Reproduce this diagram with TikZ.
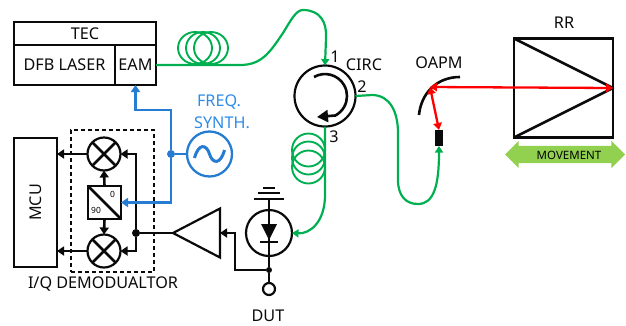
\documentclass[tikz,border=0pt]{standalone}
\usepackage{fontspec}
\setmainfont{Noto Sans}
\usepackage{xcolor}
\usetikzlibrary{shapes.geometric, shapes.arrows, arrows.meta, positioning, calc}
\definecolor{myblack}{RGB}{10,10,10}
\definecolor{myfiber}{RGB}{0,176,80}
\definecolor{myblue}{RGB}{38,124,208}
\definecolor{mysky}{RGB}{46,140,232}
\definecolor{myred}{RGB}{255,0,0}
\definecolor{mylime}{RGB}{146,208,80}
\tikzset{
  labeltext/.style={font=\fontsize{16.2}{18}\selectfont, inner sep=0pt, color=myblack},
  box/.style={rectangle, draw=myblack, line width=2.1pt, inner sep=0pt, outer sep=0pt, labeltext},
  mixer/.style={circle, draw=myblack, line width=2.2pt, minimum size=33pt, inner sep=0pt, outer sep=0pt},
  coil/.style={ellipse, draw=myfiber, line width=1.9pt, inner sep=0pt, minimum width=34pt, minimum height=32pt},
  junction/.style={circle, fill=#1, minimum size=8pt, inner sep=0pt},
  wire/.style={line width=2.6pt, color=myblack},
  arrow/.style={-{Triangle[length=7pt,width=9pt]}, wire},
  bluearrow/.style={-{Triangle[length=7pt,width=9pt]}, line width=2.5pt, color=myblue},
  fiber/.style={-{Triangle[length=6.5pt,width=8pt]}, line width=2.2pt, color=myfiber},
  beam/.style={{Triangle[length=7pt,width=8.5pt]}-{Triangle[length=7pt,width=8.5pt]}, line width=2.3pt, color=myred}
}

\begin{document}
\begin{tikzpicture}[x=1pt, y=-1pt]
  \useasboundingbox (0,0) rectangle (626,325);

  % source
  \node[box, minimum width=142pt, minimum height=23pt] (tec) at (85,33.5) {TEC};
  \node[box, minimum width=101pt, minimum height=40pt, below right=0pt and 0pt of tec.south west] (dfb) {DFB LASER};
  \node[box, minimum width=41pt, minimum height=40pt, right=0pt of dfb] (eam) {EAM};
  \foreach \i/\cx in {1/195, 2/203, 3/211}
    \node[coil] (loopa\i) at (\cx,48) {};

  % demodulator
  \node[box, minimum width=43pt, minimum height=129pt] (mcu) at (35.5,202.5) {\rotatebox{90}{MCU}};
  \node[rectangle, draw=myblack, line width=1.05pt, dash pattern=on 4pt off 3pt, minimum width=83pt, minimum height=142pt] (demod) at (112.5,201) {};
  \node[mixer] (mixi) at (104,154) {};
  \node[mixer] (mixq) at (104,251) {};
  \foreach \m in {mixi, mixq} {
    \draw[wire] (\m.45) -- (\m.225);
    \draw[wire] (\m.135) -- (\m.315);
  }
  \node[box, minimum size=33pt] (split) at (104.5,202.5) {};
  \draw[wire] (split.north west) -- (split.south east);
  \node[font=\bfseries\fontsize{8.5}{10}\selectfont, inner sep=0pt] (zero) at (112.5,194) {0};
  \node[font=\bfseries\fontsize{8.5}{10}\selectfont, inner sep=0pt] (ninety) at (96,210) {90};
  \node[labeltext] (demodlabel) at (103,284) {I/Q DEMODUALTOR};
  \node[junction=myblack] (idot) at (136,233) {};
  \draw[arrow] (split.north) -- (mixi.south);
  \draw[arrow] (split.south) -- (mixq.north);
  \draw[arrow] (mixi.west) -- (mcu.east |- mixi);
  \draw[arrow] (mixq.west) -- (mcu.east |- mixq);
  \draw[arrow] (idot) |- (mixi.east);
  \draw[arrow] (idot) |- (mixq.east);

  % synthesizer
  \node[circle, draw=myblue, line width=2.3pt, minimum size=45pt, inner sep=0pt, outer sep=0pt] (synth) at (209.5,154) {};
  \draw[myblue, line width=3pt] ($(synth)+(-15,4)$) .. controls ($(synth)+(-11,-11)$) and ($(synth)+(-3,-10)$) .. (synth.center)
    .. controls ($(synth)+(3,10)$) and ($(synth)+(11,11)$) .. ($(synth)+(15,-4)$);
  \node[labeltext, color=mysky] (freq) at (219,102) {FREQ.};
  \node[labeltext, color=mysky] (synthlabel) at (222,123) {SYNTH.};
  \node[junction=myblue] (bdot) at (171,154) {};
  \draw[line width=2.5pt, color=myblue] (synth.west) -- (bdot);
  \draw[bluearrow] (bdot) -- ++(0,-44) -| (eam.south);
  \draw[bluearrow] (bdot) |- (split.east);

  % receiver
  \node[circle, draw=myblack, line width=2.2pt, minimum size=46pt, inner sep=0pt, outer sep=0pt] (pd) at (269,233) {};
  \node[junction=myblack, minimum size=6pt] (pdot) at (269,270) {};
  \node[circle, draw=myblack, line width=2.2pt, minimum size=12pt, inner sep=0pt, outer sep=0pt] (dut) at (269,289) {};
  \node[labeltext] (dutlabel) at (268,316) {DUT};
  \coordinate (gnd) at (269,199);
  \draw[wire] (gnd) -- (pdot) -- (dut.north);
  \draw[wire] ($(gnd)+(-15,0)$) -- ($(gnd)+(15,0)$);
  \draw[wire] ($(gnd)+(-11,-6)$) -- ($(gnd)+(11,-6)$);
  \draw[wire] ($(gnd)+(-6,-11)$) -- ($(gnd)+(6,-11)$);
  \fill[myblack] ($(pd)+(-8,-9)$) -- ($(pd)+(8,-9)$) -- ($(pd)+(0,7)$) -- cycle;
  \draw[wire] ($(pd)+(-9,9)$) -- ($(pd)+(9,9)$);
  \node[isosceles triangle, isosceles triangle stretches, shape border rotate=180, draw=myblack, line width=2.2pt,
    minimum width=49pt, minimum height=47pt, inner sep=0pt, outer sep=0pt, anchor=apex] (amp) at (173,233) {};
  \draw[wire] (amp.apex) -- (idot);
  \draw[arrow] (pdot) -- ++(-34,0) |- (amp.lower side);

  % circulator
  \node[circle, draw=myblack, line width=2.2pt, minimum size=61pt, inner sep=0pt, outer sep=0pt] (circ) at (325,96) {};
  \draw[-{Triangle[length=11pt,width=12pt]}, wire] ($(circ)+(-11,-19)$) arc[start angle=120, end angle=-62, radius=22pt] -- ($(circ)+(-8,21)$);
  \node[labeltext] (portone) at (335,57) {1};
  \node[labeltext] (circlabel) at (364,65) {CIRC};
  \node[labeltext] (porttwo) at (362,87) {2};
  \node[labeltext] (portthree) at (334,137) {3};
  \foreach \i/\cy in {1/150, 2/158, 3/167}
    \node[coil, minimum width=33pt, minimum height=33pt] (loopb\i) at (308.5,\cy) {};

  % free space path
  \node[rectangle, fill=myblack, minimum width=8pt, minimum height=16pt, inner sep=0pt, outer sep=0pt] (coll) at (439,138) {};
  \coordinate (hit) at (430,87);
  \draw[wire] (419,115) .. controls (421,94) and (436,77) .. (460,77);
  \node[labeltext] (oapmlabel) at (439,63) {OAPM};
  \node[box, minimum size=99pt] (rr) at (563.5,88) {};
  \node[labeltext] (rrlabel) at (564,23) {RR};
  \draw[wire, line join=round] (rr.north west) -- (rr.east) -- (rr.south west);
  \draw[beam] (hit) -- (rr.east);
  \draw[beam] (hit) -- (coll.north);
  \node[double arrow, fill=mylime, minimum height=120pt, minimum width=27pt, double arrow head extend=5pt,
    inner xsep=0pt, inner ysep=4pt, text height=9pt, text depth=0pt, font=\fontsize{11.5}{14}\selectfont] (move) at (565,154.5) {\hspace*{8pt}MOVEMENT};

  % fibers
  \draw[line width=2.2pt, color=myfiber] (eam.east) -- (240,65) .. controls (262,65) and (270,52) .. (283,33)
    .. controls (291,20) and (296,10) .. (303,10);
  \draw[fiber] (303,10) .. controls (320,10) and (327,22) .. (326,38) -- (circ.north);
  \draw[fiber] (circ.east) -- (372,95) .. controls (390,95) and (398,112) .. (398,133) -- (398,180)
    .. controls (398,196) and (406,204) .. (418,204) .. controls (434,204) and (439,185) .. (coll.south);
  \draw[fiber] (circ.south) -- (325,195) .. controls (325,222) and (310,234) .. (pd.east);
\end{tikzpicture}
\end{document}
